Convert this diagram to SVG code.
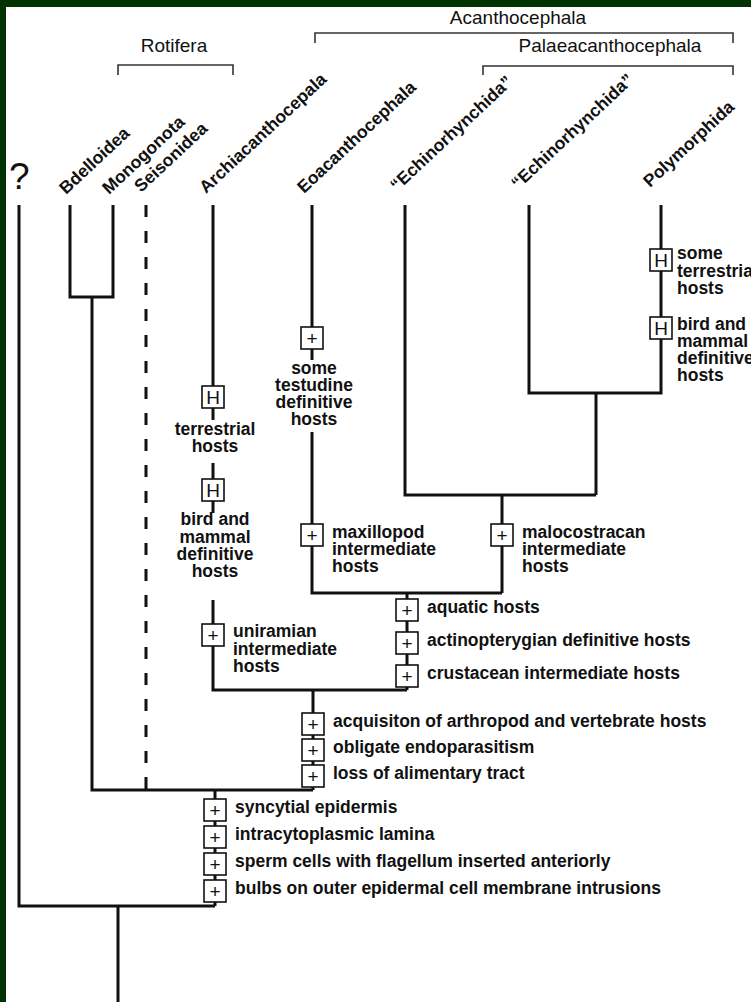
<svg xmlns="http://www.w3.org/2000/svg" xmlns:xlink="http://www.w3.org/1999/xlink" width="751" height="1002" viewBox="0 0 751 1002">
<style>
.ln{stroke:#111;stroke-width:3;fill:none}
.br{stroke:#333;stroke-width:1.6;fill:none}
.dash{stroke:#111;stroke-width:3;fill:none;stroke-dasharray:12 14}
.bx{fill:#fff;stroke:#111;stroke-width:1.6}
.sym{font-family:"Liberation Sans",Arial,sans-serif;font-size:19px;text-anchor:middle;fill:#111}
.lb{font-family:"Liberation Sans",Arial,sans-serif;font-weight:bold;font-size:17.5px;fill:#111}
.tx{font-family:"Liberation Sans",Arial,sans-serif;font-weight:bold;font-size:17.5px;fill:#111}
.c{text-anchor:middle}
.grp{font-family:"Liberation Sans",Arial,sans-serif;font-size:19px;fill:#111;text-anchor:middle}
</style>
<defs>
<g id="plus"><rect class="bx" x="-11" y="-11" width="22" height="22"/><text class="sym" x="0" y="7">+</text></g>
<g id="hbox"><rect class="bx" x="-11" y="-11" width="22" height="22"/><text class="sym" x="0" y="7">H</text></g>
</defs>
<rect x="0" y="0" width="751" height="1002" fill="#fff"/>
<rect x="0" y="0" width="751" height="7" fill="#013300"/>
<rect x="0" y="0" width="6" height="1002" fill="#013300"/>

<g id="groups">
<text class="grp" x="518" y="24">Acanthocephala</text>
<path class="br" d="M315,43 V33 H733 V43"/>
<text class="grp" x="174" y="52">Rotifera</text>
<path class="br" d="M118,75 V65 H233 V75"/>
<text class="grp" x="610" y="52">Palaeacanthocephala</text>
<path class="br" d="M483,75 V66 H733 V75"/>
</g>

<g id="connectors">
<path class="ln" d="M19,205 V906 H215 M118,906 V1002"/>
<path class="ln" d="M70,205 V297 H113 V205 M92,297 V790 H313"/>
<path class="dash" d="M146,205 V790"/>
<path class="ln" d="M213,205 V420 M213,463 V513 M213,600 V690 H407 M313,690 V790 M215,790 V906"/>
<path class="ln" d="M312,205 V360 M312,432 V593 H502 M407,593 V690"/>
<path class="ln" d="M405,205 V495 H596 M502,495 V593 M596,393 V495 M529,205 V393 H661 V205"/>
</g>

<g id="taxon-unknown"><text x="9" y="189" style="font-family:'Liberation Sans',Arial,sans-serif;font-size:37px;fill:#111">?</text></g>
<g id="taxon-bdelloidea"><text class="lb" transform="translate(66,195) rotate(-43)">Bdelloidea</text></g>
<g id="taxon-monogonota"><text class="lb" transform="translate(109,195) rotate(-43)">Monogonota</text></g>
<g id="taxon-seisonidea"><text class="lb" transform="translate(141,193) rotate(-43)">Seisonidea</text></g>
<g id="taxon-archiacanthocepala"><text class="lb" transform="translate(206,194) rotate(-43)">Archiacanthocepala</text></g>
<g id="taxon-eoacanthocephala"><text class="lb" transform="translate(304,194) rotate(-43)">Eoacanthocephala</text></g>
<g id="taxon-echinorhynchida-1"><text class="lb" transform="translate(397,192) rotate(-43)">“Echinorhynchida”</text></g>
<g id="taxon-echinorhynchida-2"><text class="lb" transform="translate(518,190) rotate(-43)">“Echinorhynchida”</text></g>
<g id="taxon-polymorphida"><text class="lb" transform="translate(650,188) rotate(-43)">Polymorphida</text></g>

<g id="char-testudine">
<use xlink:href="#plus" x="312" y="338"/>
<text class="tx c"><tspan x="314" y="374">some</tspan><tspan x="314" y="391">testudine</tspan><tspan x="314" y="408">definitive</tspan><tspan x="314" y="425">hosts</tspan></text>
</g>
<g id="char-arch-terrestrial">
<use xlink:href="#hbox" x="213" y="397"/>
<text class="tx c"><tspan x="215" y="435">terrestrial</tspan><tspan x="215" y="452">hosts</tspan></text>
</g>
<g id="char-arch-bird">
<use xlink:href="#hbox" x="213" y="490"/>
<text class="tx c"><tspan x="215" y="525">bird and</tspan><tspan x="215" y="543">mammal</tspan><tspan x="215" y="560">definitive</tspan><tspan x="215" y="577">hosts</tspan></text>
</g>
<g id="char-uniramian">
<use xlink:href="#plus" x="213" y="635"/>
<text class="tx"><tspan x="233" y="637">uniramian</tspan><tspan x="233" y="655">intermediate</tspan><tspan x="233" y="672">hosts</tspan></text>
</g>
<g id="char-maxillopod">
<use xlink:href="#plus" x="312" y="535"/>
<text class="tx"><tspan x="332" y="538">maxillopod</tspan><tspan x="332" y="555">intermediate</tspan><tspan x="332" y="572">hosts</tspan></text>
</g>
<g id="char-malocostracan">
<use xlink:href="#plus" x="502" y="535"/>
<text class="tx"><tspan x="522" y="538">malocostracan</tspan><tspan x="522" y="555">intermediate</tspan><tspan x="522" y="572">hosts</tspan></text>
</g>
<g id="char-poly-terrestrial">
<use xlink:href="#hbox" x="661" y="260"/>
<text class="tx"><tspan x="677" y="259">some</tspan><tspan x="677" y="277">terrestrial</tspan><tspan x="677" y="294">hosts</tspan></text>
</g>
<g id="char-poly-bird">
<use xlink:href="#hbox" x="661" y="328"/>
<text class="tx"><tspan x="677" y="330">bird and</tspan><tspan x="677" y="347">mammal</tspan><tspan x="677" y="364">definitive</tspan><tspan x="677" y="381">hosts</tspan></text>
</g>
<g id="char-aquatic"><use xlink:href="#plus" x="407" y="610"/><text class="tx" x="427" y="613">aquatic hosts</text></g>
<g id="char-actinopterygian"><use xlink:href="#plus" x="407" y="643"/><text class="tx" x="427" y="646">actinopterygian definitive hosts</text></g>
<g id="char-crustacean"><use xlink:href="#plus" x="407" y="676"/><text class="tx" x="427" y="679">crustacean intermediate hosts</text></g>
<g id="char-acquisition"><use xlink:href="#plus" x="313" y="724"/><text class="tx" x="333" y="727">acquisiton of arthropod and vertebrate hosts</text></g>
<g id="char-endoparasitism"><use xlink:href="#plus" x="313" y="750"/><text class="tx" x="333" y="753">obligate endoparasitism</text></g>
<g id="char-alimentary"><use xlink:href="#plus" x="313" y="776"/><text class="tx" x="333" y="779">loss of alimentary tract</text></g>
<g id="char-syncytial"><use xlink:href="#plus" x="215" y="810"/><text class="tx" x="235" y="813">syncytial epidermis</text></g>
<g id="char-lamina"><use xlink:href="#plus" x="215" y="837"/><text class="tx" x="235" y="840">intracytoplasmic lamina</text></g>
<g id="char-sperm"><use xlink:href="#plus" x="215" y="864"/><text class="tx" x="235" y="867">sperm cells with flagellum inserted anteriorly</text></g>
<g id="char-bulbs"><use xlink:href="#plus" x="215" y="891"/><text class="tx" x="235" y="894">bulbs on outer epidermal cell membrane intrusions</text></g>
</svg>
